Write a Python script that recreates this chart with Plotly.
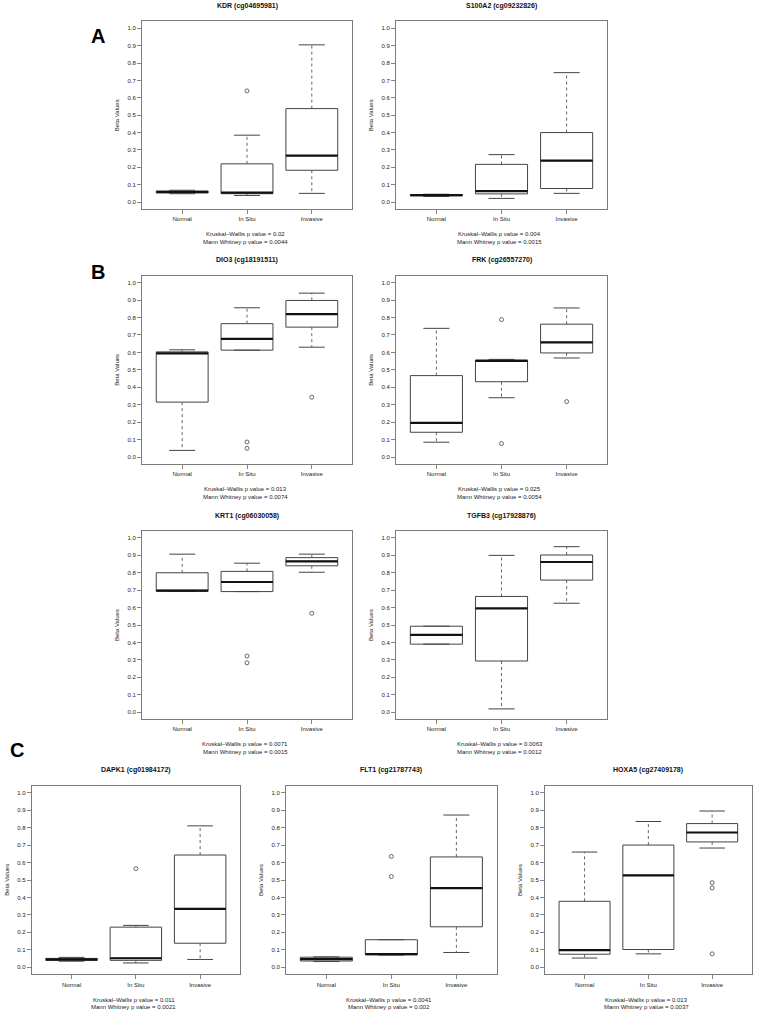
import plotly.graph_objects as go

W, H = 759, 1014
categories = ["Normal", "In Situ", "Invasive"]
cat_pos = [1, 2, 3]

titles = ["KDR (cg04695981)", "S100A2 (cg09232826)", "DIO3 (cg18191511)",
          "FRK (cg26557270)", "KRT1 (cg06030058)", "TGFB3 (cg17928876)",
          "DAPK1 (cg01984172)", "FLT1 (cg21787743)", "HOXA5 (cg27409178)"]
kw_p = ["0.02", "0.004", "0.013", "0.025", "0.0071", "0.0063", "0.011", "0.0041", "0.013"]
mw_p = ["0.0044", "0.0015", "0.0074", "0.0054", "0.0015", "0.0012", "0.0021", "0.002", "0.0037"]

# box statistics per panel, each list = [Normal, In Situ, Invasive]
lower = [[0.048, 0.038, 0.050], [0.032, 0.021, 0.050], [0.038, 0.613, 0.630],
         [0.085, 0.340, 0.568], [0.693, 0.692, 0.803], [0.390, 0.018, 0.625],
         [0.035, 0.025, 0.045], [0.033, 0.070, 0.085], [0.053, 0.077, 0.683]]
q1 = [[0.052, 0.048, 0.183], [0.036, 0.047, 0.078], [0.315, 0.613, 0.745],
      [0.142, 0.432, 0.597], [0.694, 0.692, 0.840], [0.390, 0.293, 0.758],
      [0.039, 0.040, 0.138], [0.036, 0.072, 0.232], [0.075, 0.102, 0.718]]
median = [[0.058, 0.054, 0.267], [0.040, 0.063, 0.238], [0.595, 0.678, 0.820],
          [0.196, 0.552, 0.658], [0.697, 0.747, 0.866], [0.443, 0.595, 0.862],
          [0.045, 0.052, 0.335], [0.047, 0.075, 0.453], [0.098, 0.527, 0.772]]
q3 = [[0.064, 0.220, 0.538], [0.043, 0.217, 0.400], [0.603, 0.765, 0.898],
      [0.467, 0.556, 0.762], [0.800, 0.808, 0.887], [0.493, 0.664, 0.902],
      [0.051, 0.230, 0.643], [0.058, 0.158, 0.632], [0.378, 0.700, 0.823]]
upper = [[0.068, 0.385, 0.905], [0.045, 0.273, 0.745], [0.615, 0.856, 0.940],
         [0.738, 0.560, 0.855], [0.907, 0.855, 0.907], [0.493, 0.900, 0.950],
         [0.057, 0.240, 0.810], [0.060, 0.158, 0.872], [0.660, 0.835, 0.895]]
# outliers: category index (1-based) and value
out_cat = [[2], [], [2, 2, 3], [2, 2, 3], [2, 2, 3], [], [2], [2, 2], [3, 3, 3]]
out_val = [[0.640], [], [0.086, 0.050, 0.343], [0.788, 0.077, 0.318],
           [0.322, 0.283, 0.567], [], [0.565], [0.635, 0.520], [0.485, 0.455, 0.077]]

y_ticks = [round(0.1 * i, 1) for i in range(11)]
y_ticktext = ["%.1f" % v for v in y_ticks]

# layout: plot frames in pixels (left, right, top, bottom)
frames = [
    (142, 352, 21.4, 209), (396, 607, 21.4, 209),
    (142, 352, 275.7, 464), (396, 607, 275.7, 464),
    (142, 352, 531, 719), (396, 607, 531, 719),
    (31.7, 240, 785.7, 974.3), (286, 496.7, 785.7, 974.3), (545, 751.7, 785.7, 974.3),
]
letters = [("A", 98, 36), ("B", 98, 272), ("C", 17, 750)]

FONT = "Liberation Sans, Arial, Helvetica, sans-serif"
BOXC = "#444444"
FRAMEC = "#7a7a7a"

def px(x):
    return x / W

def py(y):
    return 1 - y / H

fig = go.Figure()
annotations = []
layout_axes = {}

for i in range(9):
    xa = "x" if i == 0 else "x%d" % (i + 1)
    ya = "y" if i == 0 else "y%d" % (i + 1)
    L, R, T, B = frames[i]

    wx, wy = [], []
    cx, cy = [], []
    mx, my = [], []
    for k, c in enumerate(cat_pos):
        wx += [c, c, None, c, c, None]
        wy += [q3[i][k], upper[i][k], None, q1[i][k], lower[i][k], None]
        cx += [c - 0.2, c + 0.2, None, c - 0.2, c + 0.2, None]
        cy += [upper[i][k], upper[i][k], None, lower[i][k], lower[i][k], None]
        mx += [c - 0.4, c + 0.4, None]
        my += [median[i][k], median[i][k], None]

    fig.add_trace(go.Scatter(x=wx, y=wy, mode="lines", xaxis=xa, yaxis=ya,
                             line=dict(color="#555555", width=0.9, dash="dot"),
                             hoverinfo="skip", showlegend=False))
    fig.add_trace(go.Scatter(x=cx, y=cy, mode="lines", xaxis=xa, yaxis=ya,
                             line=dict(color=BOXC, width=1),
                             hoverinfo="skip", showlegend=False))
    fig.add_trace(go.Box(x=cat_pos, q1=q1[i], median=median[i], q3=q3[i],
                         lowerfence=q1[i], upperfence=q3[i], width=0.8,
                         whiskerwidth=0, boxpoints=False,
                         fillcolor="white", line=dict(color=BOXC, width=1),
                         xaxis=xa, yaxis=ya, hoverinfo="skip", showlegend=False))
    fig.add_trace(go.Scatter(x=mx, y=my, mode="lines", xaxis=xa, yaxis=ya,
                             line=dict(color="#111111", width=2.2),
                             hoverinfo="skip", showlegend=False))
    if out_val[i]:
        fig.add_trace(go.Scatter(x=out_cat[i], y=out_val[i], mode="markers",
                                 xaxis=xa, yaxis=ya,
                                 marker=dict(symbol="circle-open", size=4,
                                             color="#444444", line=dict(width=0.8)),
                                 hoverinfo="skip", showlegend=False))

    xkey = "xaxis" if i == 0 else "xaxis%d" % (i + 1)
    ykey = "yaxis" if i == 0 else "yaxis%d" % (i + 1)
    layout_axes[xkey] = dict(domain=[px(L), px(R)], anchor=ya, range=[0.38, 3.62],
                             tickvals=cat_pos, ticktext=categories, ticks="outside",
                             ticklen=4, tickwidth=0.8, tickcolor="#666666",
                             showline=True, mirror=True, linecolor=FRAMEC, linewidth=1,
                             showgrid=False, zeroline=False, fixedrange=True,
                             tickfont=dict(size=6, family=FONT, color="#222222"))
    layout_axes[ykey] = dict(domain=[py(B), py(T)], anchor=xa, range=[-0.04, 1.04],
                             tickvals=y_ticks, ticktext=y_ticktext, ticks="outside",
                             ticklen=4, tickwidth=0.8, tickcolor="#666666",
                             showline=True, mirror=True, linecolor=FRAMEC, linewidth=1,
                             showgrid=False, zeroline=False, fixedrange=True,
                             tickfont=dict(size=6, family=FONT, color="#222222"))

    cxp = (L + R) / 2
    annotations.append(dict(x=px(cxp), y=py(T - 15.5), xref="paper", yref="paper",
                            text="<b>%s</b>" % titles[i], showarrow=False,
                            font=dict(size=7, family=FONT, color="#111111"),
                            xanchor="center", yanchor="middle"))
    annotations.append(dict(x=px(L - 25), y=py((T + B) / 2), xref="paper", yref="paper",
                            text="Beta Values", textangle=-90, showarrow=False,
                            font=dict(size=6, family=FONT, color="#222222"),
                            xanchor="center", yanchor="middle"))
    annotations.append(dict(x=px(cxp - 2), y=py(B + 25.3), xref="paper", yref="paper",
                            text="Kruskal\u2013Wallis p value = %s" % kw_p[i], showarrow=False,
                            font=dict(size=6, family=FONT, color="#222222"),
                            xanchor="center", yanchor="middle"))
    annotations.append(dict(x=px(cxp - 2), y=py(B + 32.7), xref="paper", yref="paper",
                            text="Mann Whitney p value = %s" % mw_p[i], showarrow=False,
                            font=dict(size=6, family=FONT, color="#222222"),
                            xanchor="center", yanchor="middle"))

for txt, lx, ly in letters:
    annotations.append(dict(x=px(lx), y=py(ly), xref="paper", yref="paper",
                            text="<b>%s</b>" % txt, showarrow=False,
                            font=dict(size=20, family=FONT, color="#000000"),
                            xanchor="center", yanchor="middle"))

fig.update_layout(width=W, height=H, margin=dict(l=0, r=0, t=0, b=0),
                  paper_bgcolor="white", plot_bgcolor="white",
                  showlegend=False, annotations=annotations, **layout_axes)

fig.write_html("out.html", config={"displayModeBar": False, "staticPlot": True},
               post_script="document.body.style.margin='0';document.body.style.padding='0';document.body.style.overflow='hidden';")
